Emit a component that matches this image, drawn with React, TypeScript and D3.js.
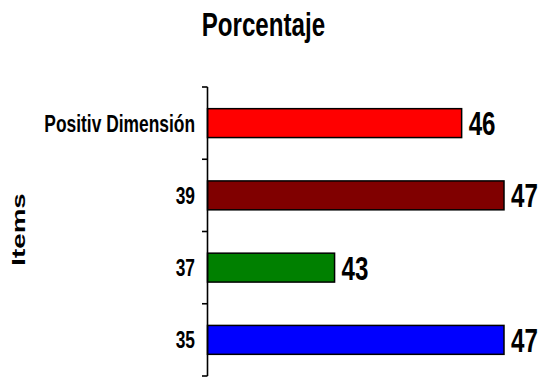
import React from "react";
import * as d3 from "d3";

const categories = ["Positiv Dimensión", "39", "37", "35"];
const values = [46, 47, 43, 47];
const colors = ["#FF0000", "#800000", "#008000", "#0000FF"];
const xDomain = [40, 47];
const title = "Porcentaje";
const yTitle = "Items";

const W = 538;
const H = 377;
const FONT = "'Liberation Sans', Arial, sans-serif";

export default function App() {
  const x = d3.scaleLinear().domain(xDomain).range([207.5, 504]);
  const y = d3
    .scaleBand<string>()
    .domain(categories)
    .range([87, 376])
    .paddingInner(0.6)
    .paddingOuter(0.3);
  const step = y.step();
  const bounds = categories.map((c) => (y(c) as number) - step * 0.3);
  bounds.push(376);
  const x0 = x(xDomain[0]);

  return (
    <svg
      width={W}
      height={H}
      style={{ position: "absolute", left: 0, top: 0, background: "#fff" }}
      fontFamily={FONT}
      fontWeight="bold"
    >
      <text
        transform={`translate(263.4,36) scale(0.71,1)`}
        textAnchor="middle"
        fontSize={34}
        fill="#000"
      >
        {title}
      </text>
      <text
        transform={`translate(25,229.5) rotate(-90) scale(1.5,1)`}
        textAnchor="middle"
        fontSize={18.5}
        fill="#000"
      >
        {yTitle}
      </text>
      {categories.map((c, i) => {
        const yy = y(c) as number;
        const bw = y.bandwidth();
        return (
          <g key={c}>
            <rect
              x={x0}
              y={yy}
              width={x(values[i]) - x0}
              height={bw}
              fill={colors[i]}
              stroke="#000"
              strokeWidth={1.5}
            />
            <text
              transform={`translate(${x(values[i]) + 7},${yy + bw / 2 + 12}) scale(0.71,1)`}
              fontSize={34}
              fill="#000"
            >
              {values[i]}
            </text>
            <text
              transform={`translate(195,${yy + bw / 2 + 8.5}) scale(0.74,1)`}
              textAnchor="end"
              fontSize={23.5}
              fill="#000"
            >
              {c}
            </text>
          </g>
        );
      })}
      <line x1={x0} x2={x0} y1={87} y2={376} stroke="#000" strokeWidth={1.6} />
      {bounds.map((b, i) => (
        <line key={i} x1={202} x2={x0} y1={b} y2={b} stroke="#000" strokeWidth={1.6} />
      ))}
    </svg>
  );
}
